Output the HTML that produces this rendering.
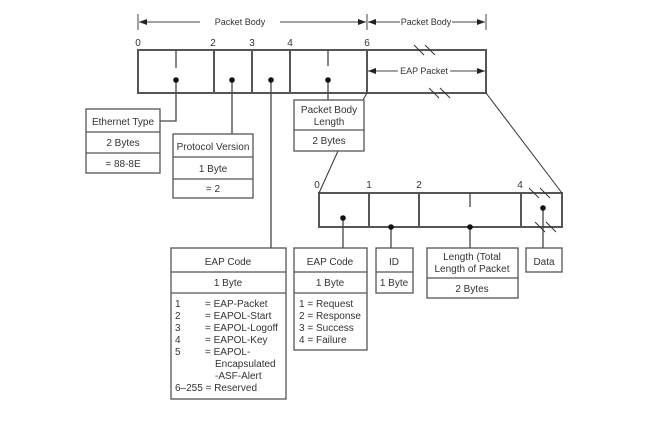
<!DOCTYPE html>
<html><head><style>body{margin:0;background:#fff}svg{display:block}text{font-family:"Liberation Sans",sans-serif;fill:#333}</style></head><body>
<svg width="648" height="433" viewBox="0 0 648 433" xmlns="http://www.w3.org/2000/svg">
<defs><marker id="a" markerWidth="8" markerHeight="6" refX="8" refY="3" orient="auto-start-reverse" markerUnits="userSpaceOnUse"><path d="M0,0L8,3L0,6z" fill="#222"/></marker></defs>
<g stroke="#444" stroke-width="1" fill="none">
<line x1="138" y1="14" x2="138" y2="30"/><line x1="367" y1="14" x2="367" y2="30"/><line x1="486" y1="14" x2="486" y2="30"/>
<line x1="139" y1="22" x2="200" y2="22" marker-start="url(#a)"/><line x1="280" y1="22" x2="366" y2="22" marker-end="url(#a)"/>
<line x1="368" y1="22" x2="400" y2="22" marker-start="url(#a)"/><line x1="452" y1="22" x2="485" y2="22" marker-end="url(#a)"/>
<line x1="368" y1="71" x2="398" y2="71" marker-start="url(#a)"/><line x1="450" y1="71" x2="485" y2="71" marker-end="url(#a)"/>
</g>
<g stroke="#555" stroke-width="2" fill="none">
<rect x="138" y="50" width="348" height="43"/>
<line x1="214" y1="50" x2="214" y2="93"/><line x1="252" y1="50" x2="252" y2="93"/><line x1="290" y1="50" x2="290" y2="93"/><line x1="367" y1="50" x2="367" y2="93"/>
<rect x="319" y="193" width="243" height="34"/>
<line x1="369" y1="193" x2="369" y2="227"/><line x1="419" y1="193" x2="419" y2="227"/><line x1="521" y1="193" x2="521" y2="227"/>
</g>
<g stroke="#333" stroke-width="1" fill="none">
<line x1="414" y1="45" x2="424" y2="55"/><line x1="425" y1="45" x2="435" y2="55"/>
<line x1="429" y1="88" x2="439" y2="98"/><line x1="440" y1="88" x2="450" y2="98"/>
<line x1="529" y1="188" x2="539" y2="198"/><line x1="540" y1="188" x2="550" y2="198"/>
<line x1="535" y1="222" x2="545" y2="232"/><line x1="546" y1="222" x2="556" y2="232"/>
<line x1="367" y1="93" x2="363" y2="100"/><line x1="338" y1="151" x2="319" y2="193"/><line x1="486" y1="93" x2="562" y2="193"/>
</g>
<g stroke="#444" stroke-width="1.3" fill="none">
<line x1="176" y1="50" x2="176" y2="68"/><polyline points="160,121 176,121 176,80"/>
<line x1="232" y1="80" x2="232" y2="134"/><line x1="271" y1="80" x2="271" y2="248"/>
<line x1="328" y1="50" x2="328" y2="66"/><line x1="328" y1="80" x2="328" y2="100"/>
<line x1="470" y1="193" x2="470" y2="207"/><line x1="470" y1="227" x2="470" y2="248"/>
<line x1="343" y1="218" x2="343" y2="248"/><line x1="391" y1="227" x2="391" y2="248"/><line x1="543" y1="208" x2="543" y2="248"/>
</g>
<g fill="#111"><circle cx="176" cy="80" r="2.8"/><circle cx="232" cy="80" r="2.8"/><circle cx="271" cy="80" r="2.8"/><circle cx="328" cy="80" r="2.8"/>
<circle cx="343" cy="218" r="2.8"/><circle cx="391" cy="227" r="2.8"/><circle cx="470" cy="227" r="2.8"/><circle cx="543" cy="208" r="2.8"/></g>
<g stroke="#555" stroke-width="1.3" fill="#fff">
<rect x="86" y="109" width="74" height="64"/><line x1="86" y1="132" x2="160" y2="132"/><line x1="86" y1="153" x2="160" y2="153"/>
<rect x="173" y="134" width="80" height="64"/><line x1="173" y1="157" x2="253" y2="157"/><line x1="173" y1="179" x2="253" y2="179"/>
<rect x="294" y="100" width="70" height="51"/><line x1="294" y1="130" x2="364" y2="130"/>
<rect x="171" y="248" width="115" height="151"/><line x1="171" y1="272" x2="286" y2="272"/><line x1="171" y1="293" x2="286" y2="293"/>
<rect x="294" y="248" width="73" height="102"/><line x1="294" y1="272" x2="367" y2="272"/><line x1="294" y1="293" x2="367" y2="293"/>
<rect x="376" y="248" width="37" height="45"/><line x1="376" y1="272" x2="413" y2="272"/>
<rect x="427" y="248" width="91" height="50"/><line x1="427" y1="278" x2="518" y2="278"/>
<rect x="526" y="248" width="36" height="24"/>
</g>
<g font-size="9" text-anchor="middle"><text x="240" y="25">Packet Body</text><text x="426" y="25">Packet Body</text><text x="424" y="74">EAP Packet</text></g>
<g font-size="10" text-anchor="middle">
<text x="138" y="46">0</text><text x="213" y="46">2</text><text x="252" y="46">3</text><text x="290" y="46">4</text><text x="367" y="46">6</text>
<text x="317" y="188">0</text><text x="369" y="188">1</text><text x="419" y="188">2</text><text x="520" y="188">4</text>
<text x="123" y="125">Ethernet Type</text><text x="123" y="146">2 Bytes</text><text x="123" y="167">= 88-8E</text>
<text x="213" y="150">Protocol Version</text><text x="213" y="172">1 Byte</text><text x="213" y="192">= 2</text>
<text x="329" y="113">Packet Body</text><text x="329" y="125">Length</text><text x="329" y="144">2 Bytes</text>
<text x="228" y="265">EAP Code</text><text x="228" y="286">1 Byte</text>
<text x="330" y="265">EAP Code</text><text x="330" y="286">1 Byte</text>
<text x="394" y="265">ID</text><text x="394" y="286">1 Byte</text>
<text x="472" y="260">Length (Total</text><text x="472" y="272">Length of Packet</text><text x="472" y="292">2 Bytes</text>
<text x="544" y="265">Data</text>
</g>
<g font-size="10">
<text x="175" y="307">1</text><text x="205" y="307">= EAP-Packet</text>
<text x="175" y="319">2</text><text x="205" y="319">= EAPOL-Start</text>
<text x="175" y="331">3</text><text x="205" y="331">= EAPOL-Logoff</text>
<text x="175" y="343">4</text><text x="205" y="343">= EAPOL-Key</text>
<text x="175" y="355">5</text><text x="205" y="355">= EAPOL-</text>
<text x="215" y="367">Encapsulated</text><text x="215" y="379">-ASF-Alert</text>
<text x="175" y="391">6–255 = Reserved</text>
<text x="299" y="307">1 = Request</text><text x="299" y="319">2 = Response</text><text x="299" y="331">3 = Success</text><text x="299" y="343">4 = Failure</text>
</g>
</svg>
</body></html>
